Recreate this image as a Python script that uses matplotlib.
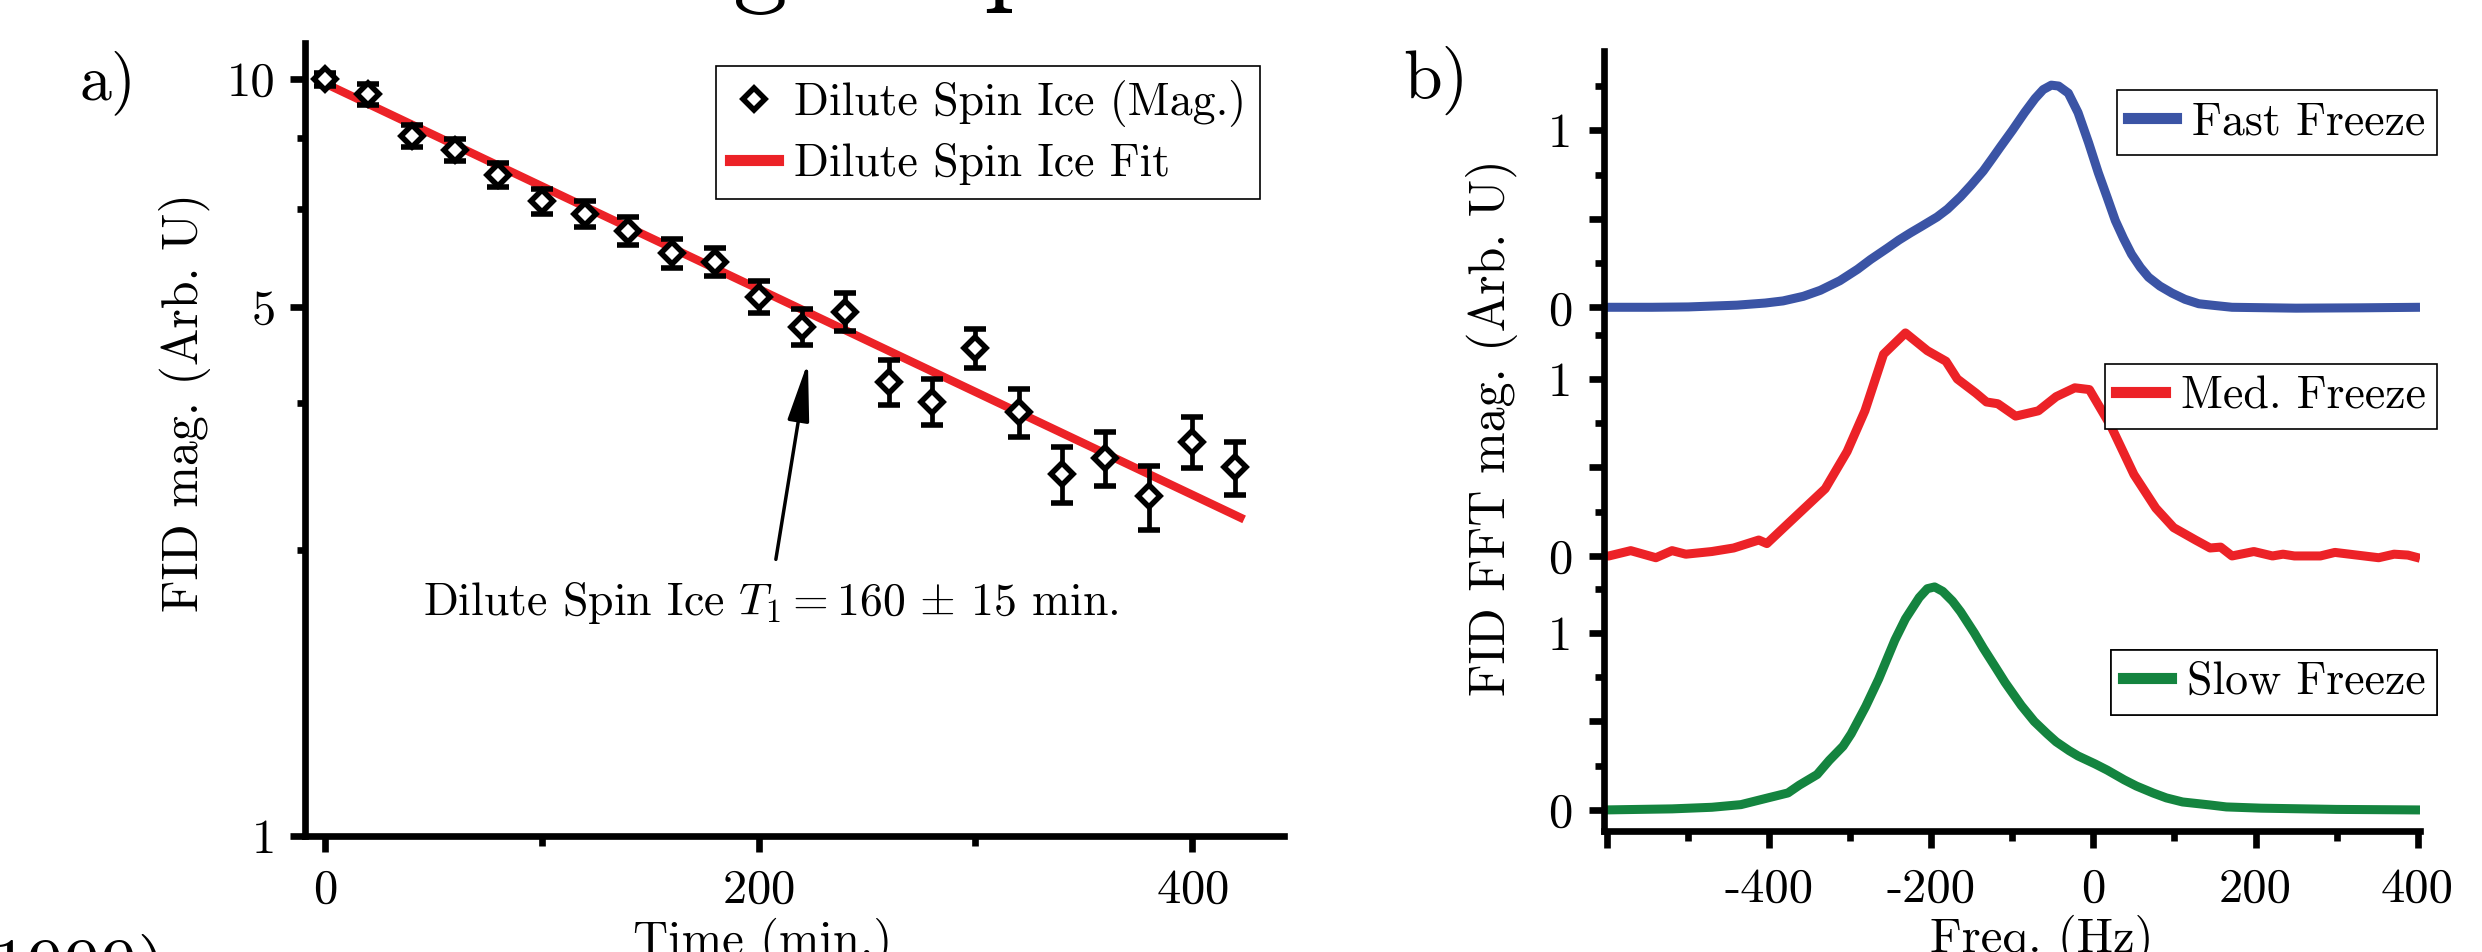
import matplotlib
matplotlib.use("Agg")
import matplotlib.pyplot as plt
from matplotlib.lines import Line2D
from matplotlib.ticker import FixedLocator, FixedFormatter, NullFormatter

plt.rcParams["font.family"] = ["cmr10", "DejaVu Serif"]
plt.rcParams["mathtext.fontset"] = "cm"
plt.rcParams["axes.unicode_minus"] = False
plt.rcParams["axes.formatter.use_mathtext"] = True

# ---- panel a: FID magnitude vs time ----
time_min = [0, 20, 40, 60, 80, 100, 120, 140, 160, 180, 200,
            220, 240, 260, 280, 300, 320, 340, 360, 380, 400, 420]
fid_mag = [10.0, 9.55, 8.42, 8.06, 7.47, 6.90, 6.64, 6.30, 5.89, 5.74, 5.16,
           4.71, 4.93, 3.98, 3.75, 4.41, 3.63, 3.01, 3.16, 2.81, 3.32, 3.07]
fid_err = [0.20, 0.30, 0.28, 0.27, 0.27, 0.26, 0.27, 0.27, 0.26, 0.25, 0.25,
           0.26, 0.28, 0.27, 0.26, 0.26, 0.26, 0.26, 0.26, 0.27, 0.26, 0.25]
fit_time = [0, 424]
fit_mag = [9.87, 2.62]

# ---- panel b: FFT spectra ----
freq_fast = [-603, -545, -500, -440, -405, -383, -358, -337, -313, -291, -275,
             -254, -240, -226, -213, -193, -180, -164, -151, -136, -125, -115,
             -100, -85, -72, -62, -52, -43, -31, -19, -6, 6, 17, 27, 37, 47, 58,
             68, 82, 97, 113, 130, 150, 171, 250, 330, 403]
fft_fast = [0.0, 0.0, 0.002, 0.012, 0.024, 0.036, 0.062, 0.096, 0.15, 0.215, 0.27,
            0.335, 0.38, 0.42, 0.455, 0.51, 0.555, 0.625, 0.69, 0.77, 0.84, 0.905,
            1.0, 1.1, 1.18, 1.23, 1.255, 1.25, 1.21, 1.10, 0.93, 0.76, 0.62, 0.49,
            0.39, 0.30, 0.225, 0.17, 0.12, 0.08, 0.045, 0.02, 0.01, 0.0, -0.005,
            -0.003, 0.0]

freq_med = [-603, -598, -571, -540, -520, -503, -471, -444, -413, -403, -381,
            -331, -304, -282, -259, -232, -205, -182, -168, -145, -132, -118,
            -96, -68, -46, -23, -5, 22, 50, 77, 99, 126, 144, 157, 171, 198,
            221, 234, 248, 280, 298, 325, 352, 371, 388, 403]
fft_med = [0.0, 0.0, 0.03, -0.01, 0.03, 0.01, 0.025, 0.045, 0.09, 0.07, 0.165,
           0.38, 0.59, 0.82, 1.14, 1.26, 1.16, 1.10, 1.00, 0.92, 0.87, 0.86,
           0.79, 0.82, 0.90, 0.95, 0.94, 0.73, 0.46, 0.27, 0.16, 0.09, 0.045,
           0.05, 0.0, 0.025, 0.0, 0.01, 0.0, 0.0, 0.02, 0.005, -0.01, 0.01,
           0.005, -0.013]

freq_slow = [-603, -520, -471, -435, -400, -377, -363, -341, -326, -309, -299,
             -281, -265, -255, -245, -232, -215, -205, -196, -186, -174, -164,
             -147, -136, -120, -109, -89, -73, -57, -46, -30, -19, 2, 17, 38, 53,
             74, 90, 110, 144, 164, 207, 300, 403]
fft_slow = [0.0, 0.006, 0.015, 0.03, 0.07, 0.096, 0.14, 0.20, 0.28, 0.36, 0.43,
            0.585, 0.74, 0.85, 0.96, 1.08, 1.20, 1.25, 1.26, 1.235, 1.18, 1.12,
            1.0, 0.915, 0.80, 0.72, 0.59, 0.50, 0.43, 0.385, 0.335, 0.305, 0.26,
            0.225, 0.17, 0.135, 0.095, 0.068, 0.045, 0.028, 0.017, 0.01, 0.003, 0.0]

trace_labels = ["Fast Freeze", "Med. Freeze", "Slow Freeze"]
trace_colors = ["#3b54a5", "#ec2227", "#14843f"]
trace_offsets = [2.84, 1.435, 0.0]

W, H = 2482, 952
fig = plt.figure(figsize=(W / 100, H / 100), dpi=100)


def fx(px):
    return px / W


def fy(py):
    return 1 - py / H


def style_axes(ax):
    for side in ("top", "right"):
        ax.spines[side].set_visible(False)
    for side in ("left", "bottom"):
        ax.spines[side].set_linewidth(4.8)
    ax.tick_params(which="both", direction="out", width=4.8, labelsize=35, color="black")


# panel a
ax1 = fig.add_axes([fx(305), fy(836), fx(1284 - 305), (836 - 43) / H])
ax1.plot(fit_time, fit_mag, color="#ec2227", lw=6, solid_capstyle="butt", zorder=2)
ax1.errorbar(time_min, fid_mag, yerr=fid_err, fmt="D", ms=11, mfc="white", mec="black",
             mew=4, ecolor="black", elinewidth=3.4, capsize=8, capthick=4, zorder=3)
ax1.set_yscale("log")
ax1.set_xlim(-9.2, 442.4)
ax1.set_ylim(1, 11.16)
style_axes(ax1)
ax1.yaxis.set_major_locator(FixedLocator([1, 5, 10]))
ax1.yaxis.set_major_formatter(FixedFormatter(["1", "5", "10"]))
ax1.yaxis.set_minor_locator(FixedLocator([2.39, 3.73, 6.74, 8.36]))
ax1.yaxis.set_minor_formatter(NullFormatter())
ax1.xaxis.set_major_locator(FixedLocator([0, 200, 400]))
ax1.xaxis.set_minor_locator(FixedLocator([100, 300]))
ax1.tick_params(axis="y", which="major", length=11, pad=10)
ax1.tick_params(axis="y", which="minor", length=5.5)
ax1.tick_params(axis="x", which="major", length=11.5, pad=12)
ax1.tick_params(axis="x", which="minor", length=7)

ax1.annotate("", xy=(222.8, 4.23), xytext=(208, 2.32),
             arrowprops=dict(arrowstyle="-|>,head_length=1.2,head_width=0.22",
                             color="black", lw=2.5, shrinkA=0, shrinkB=0,
                             mutation_scale=30))
ax1.text(205.8, 2.03, r"Dilute Spin Ice $T_1 = 160\,\pm\,15$ min.", fontsize=33,
         ha="center", va="center")

handles_a = [
    Line2D([], [], ls="none", marker="D", ms=11, mfc="white", mec="black", mew=4),
    Line2D([], [], color="#ec2227", lw=8),
]
leg_a = ax1.legend(handles_a, ["Dilute Spin Ice (Mag.)", "Dilute Spin Ice Fit"],
                   loc="upper right", bbox_to_anchor=(fx(1260), fy(66)),
                   bbox_transform=fig.transFigure, fontsize=33, fancybox=False,
                   edgecolor="black", framealpha=1, borderpad=0.3, labelspacing=0.35,
                   handlelength=1.05, handletextpad=0.35, borderaxespad=0)
leg_a.get_frame().set_linewidth(1.2)

# panel b
ax2 = fig.add_axes([fx(1604), fy(831), fx(2420 - 1604), (831 - 51) / H])
series = [(freq_fast, fft_fast), (freq_med, fft_med), (freq_slow, fft_slow)]
lines = []
for (fr, amp), off, col in zip(series, trace_offsets, trace_colors):
    (ln,) = ax2.plot(fr, [a + off for a in amp], color=col, lw=6.5,
                     solid_joinstyle="round", solid_capstyle="butt")
    lines.append(ln)
ax2.set_xlim(-604, 403)
ax2.set_ylim(-0.119, 4.288)
style_axes(ax2)

major_y, major_lbl, minor_y = [], [], []
for off in trace_offsets:
    major_y += [off, off + 0.5, off + 1.0]
    major_lbl += ["0", "", "1"]
    minor_y += [off + 0.25, off + 0.75, off + 1.25]
ax2.yaxis.set_major_locator(FixedLocator(major_y))
ax2.yaxis.set_major_formatter(FixedFormatter(major_lbl))
ax2.yaxis.set_minor_locator(FixedLocator(minor_y))
ax2.yaxis.set_minor_formatter(NullFormatter())
ax2.xaxis.set_major_locator(FixedLocator([-600, -400, -200, 0, 200, 400]))
ax2.xaxis.set_major_formatter(FixedFormatter(["", "-400", "-200", "0", "200", "400"]))
ax2.xaxis.set_minor_locator(FixedLocator([-500, -300, -100, 100, 300]))
ax2.tick_params(axis="y", which="major", length=11, pad=12)
ax2.tick_params(axis="y", which="minor", length=6.5)
ax2.tick_params(axis="x", which="major", length=12, pad=14)
ax2.tick_params(axis="x", which="minor", length=7)

legend_tops = [90, 364, 650]
for ln, lbl, top in zip(lines, trace_labels, legend_tops):
    h = Line2D([], [], color=ln.get_color(), lw=8)
    leg = ax2.legend([h], [lbl], loc="upper right", bbox_to_anchor=(fx(2437), fy(top)),
                     bbox_transform=fig.transFigure, fontsize=33, fancybox=False,
                     edgecolor="black", framealpha=1, borderpad=0.25,
                     handlelength=1.05, handletextpad=0.35, borderaxespad=0)
    leg.get_frame().set_linewidth(1.2)
    ax2.add_artist(leg)

# labels and page fragments
fig.text(fx(763), fy(918), "Time (min.)", fontsize=35, ha="center", va="top")
fig.text(fx(2042), fy(915), "Freq. (Hz)", fontsize=35, ha="center", va="top")
fig.text(fx(185), fy(402), "FID mag. (Arb. U)", fontsize=36, rotation=90,
         ha="center", va="center")
fig.text(fx(1492), fy(428), "FID FFT mag. (Arb. U)", fontsize=36, rotation=90,
         ha="center", va="center")
fig.text(fx(108), fy(83), "a)", fontsize=46, ha="center", va="center")
fig.text(fx(1436), fy(80), "b)", fontsize=50, ha="center", va="center")
fig.text(fx(167), fy(988), "1999)", fontsize=53, ha="right", va="baseline")
fig.text(fx(733), fy(-8), "g", fontsize=79, ha="left", va="baseline")
fig.text(fx(983), fy(-8), "p", fontsize=79, ha="left", va="baseline")

fig.savefig("out.png", dpi=100)
